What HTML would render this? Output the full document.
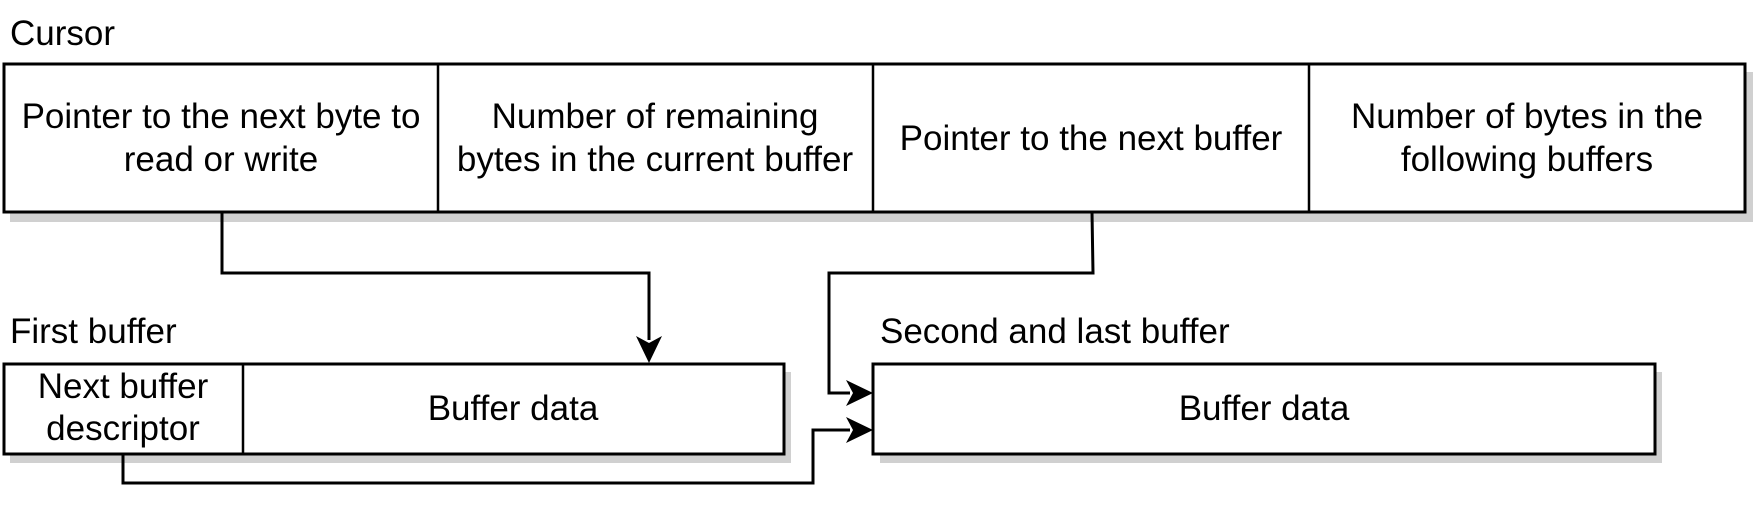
<!DOCTYPE html>
<html><head><style>
body{margin:0;width:1753px;height:509px;background:#fff;overflow:hidden;font-family:"Liberation Sans",Arial,sans-serif;}
</style></head><body>
<svg width="1753" height="509" xmlns="http://www.w3.org/2000/svg" font-family="Liberation Sans, Arial, sans-serif" font-size="35" fill="#000">
<g fill="#d0d0d0">
<rect x="10" y="72" width="1744" height="150"/>
<rect x="10" y="372" width="781" height="91"/>
<rect x="880" y="372" width="782" height="91"/>
</g>
<g fill="#fff" stroke="#000" stroke-width="3">
<rect x="4" y="64" width="1741" height="148"/>
<rect x="4" y="364" width="780" height="90"/>
<rect x="873" y="364" width="782" height="90"/>
</g>
<g stroke="#000" stroke-width="2.5" fill="none">
<line x1="438" y1="64" x2="438" y2="212"/>
<line x1="873" y1="64" x2="873" y2="212"/>
<line x1="1309" y1="64" x2="1309" y2="212"/>
<line x1="243" y1="364" x2="243" y2="454"/>
</g>
<g stroke="#000" stroke-width="3" fill="none">
<polyline points="222,212 222,273 649,273 649,340"/>
<polyline points="1092,212 1093,273 829,273 829,393 850,393"/>
<polyline points="123,454 123,483 813,483 813,430 850,430"/>
</g>
<g fill="#000">
<path d="M649,363 L636,336 L649,343 L662,336 Z"/>
<path d="M873,393 L846,380 L853,393 L846,406 Z"/>
<path d="M873,430 L846,417 L853,430 L846,443 Z"/>
</g>
<text x="10" y="45">Cursor</text>
<text x="10" y="343">First buffer</text>
<text x="880" y="343">Second and last buffer</text>
<g text-anchor="middle">
<text x="221" y="128">Pointer to the next byte to</text>
<text x="221" y="171">read or write</text>
<text x="655" y="128">Number of remaining</text>
<text x="655" y="171">bytes in the current buffer</text>
<text x="1091" y="150">Pointer to the next buffer</text>
<text x="1527" y="128">Number of bytes in the</text>
<text x="1527" y="171">following buffers</text>
<text x="123" y="398">Next buffer</text>
<text x="123" y="440">descriptor</text>
<text x="513" y="420">Buffer data</text>
<text x="1264" y="420">Buffer data</text>
</g>
</svg>
</body></html>
